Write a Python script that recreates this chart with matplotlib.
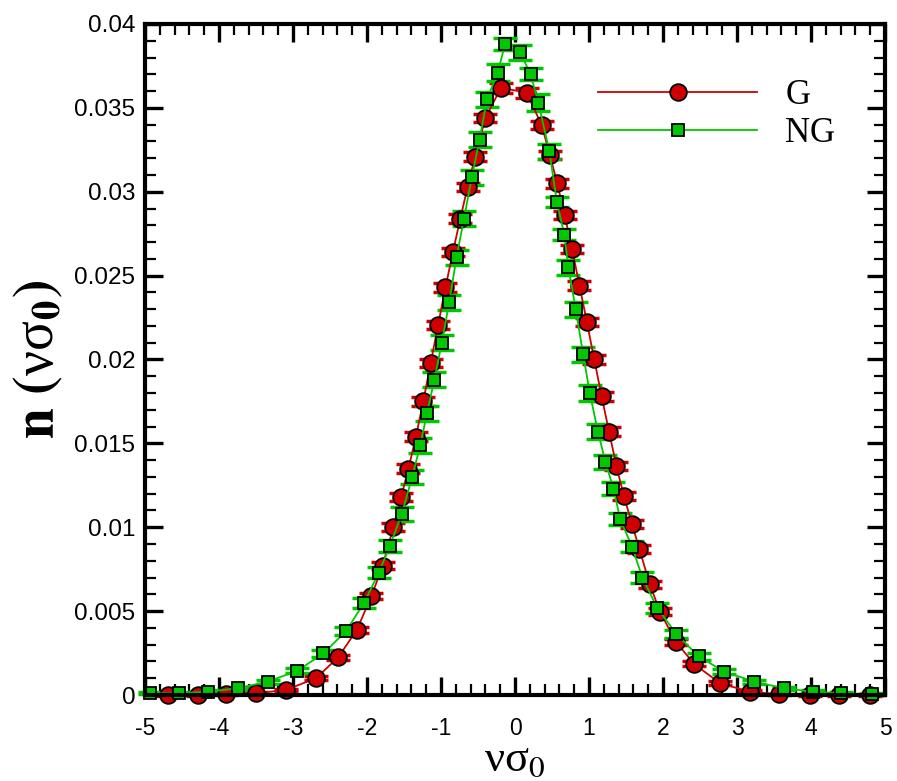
import matplotlib
matplotlib.use("Agg")
import matplotlib.pyplot as plt
from matplotlib.ticker import MultipleLocator, FuncFormatter
import numpy as np

# G sample: nu*sigma_0 and n (units of 1e-3)
g_x = [-4.69, -4.29, -3.90, -3.50, -3.10, -2.69, -2.39, -2.14, -1.94, -1.79,
       -1.645, -1.54, -1.44, -1.34, -1.24, -1.14, -1.04, -0.94, -0.84, -0.74,
       -0.64, -0.54, -0.40, -0.19, 0.157, 0.36, 0.47, 0.57, 0.67, 0.77,
       0.87, 0.97, 1.07, 1.17, 1.27, 1.37, 1.47, 1.58, 1.68, 1.82,
       1.96, 2.17, 2.42, 2.77, 3.17, 3.57, 3.98, 4.38, 4.79]
g_y = [0.0, 0.01, 0.04, 0.10, 0.30, 1.00, 2.25, 3.87, 5.9, 7.7,
       10.0, 11.8, 13.5, 15.4, 17.5, 19.8, 22.05, 24.3, 26.4, 28.4,
       30.3, 32.1, 34.4, 36.2, 35.9, 33.97, 32.2, 30.5, 28.6, 26.6,
       24.4, 22.25, 20.0, 17.8, 15.7, 13.65, 11.86, 10.2, 8.7, 6.6,
       4.96, 3.18, 1.85, 0.70, 0.20, 0.04, 0.0, 0.0, 0.0]
g_err = [0.05, 0.05, 0.05, 0.05, 0.08, 0.12, 0.15, 0.18, 0.2, 0.2,
         0.25, 0.25, 0.25, 0.25, 0.25, 0.25, 0.25, 0.25, 0.25, 0.25,
         0.25, 0.25, 0.25, 0.3, 0.3, 0.25, 0.25, 0.25, 0.25, 0.25,
         0.25, 0.25, 0.25, 0.25, 0.25, 0.25, 0.25, 0.25, 0.25, 0.2,
         0.2, 0.18, 0.15, 0.12, 0.08, 0.05, 0.05, 0.05, 0.05]

# NG sample
ng_x = [-4.93, -4.54, -4.15, -3.75, -3.34, -2.94, -2.59, -2.28, -2.04, -1.84,
        -1.69, -1.53, -1.39, -1.28, -1.19, -1.09, -0.99, -0.89, -0.79, -0.69,
        -0.585, -0.48, -0.38, -0.234, -0.135, 0.068, 0.21, 0.315, 0.464, 0.565,
        0.665, 0.72, 0.82, 0.92, 1.01, 1.12, 1.22, 1.33, 1.42, 1.58,
        1.72, 1.92, 2.18, 2.48, 2.83, 3.23, 3.63, 4.02, 4.41, 4.83]
ng_y = [0.10, 0.10, 0.20, 0.40, 0.80, 1.45, 2.48, 3.83, 5.5, 7.3,
        8.9, 10.8, 13.0, 14.9, 16.8, 18.8, 21.0, 23.4, 26.1, 28.4,
        30.85, 33.1, 35.5, 37.1, 38.8, 38.3, 37.0, 35.3, 32.4, 29.4,
        27.45, 25.5, 23.0, 20.3, 18.0, 15.7, 13.9, 12.3, 10.5, 8.85,
        7.0, 5.2, 3.63, 2.3, 1.39, 0.80, 0.40, 0.20, 0.10, 0.05]
ng_err = [0.05, 0.05, 0.08, 0.1, 0.12, 0.15, 0.2, 0.25, 0.3, 0.35,
          0.35, 0.4, 0.4, 0.45, 0.45, 0.45, 0.45, 0.45, 0.45, 0.45,
          0.45, 0.45, 0.45, 0.5, 0.35, 0.45, 0.35, 0.5, 0.45, 0.3,
          0.35, 0.45, 0.45, 0.45, 0.45, 0.45, 0.4, 0.4, 0.35, 0.35,
          0.35, 0.3, 0.25, 0.2, 0.15, 0.12, 0.1, 0.08, 0.05, 0.05]

RED = "#d00000"
GREEN = "#00c800"

plt.rcParams["mathtext.fontset"] = "stix"

fig = plt.figure(figsize=(8.97, 7.81), dpi=100)
ax = fig.add_axes([0.1617, 0.1101, 0.8250, 0.8592])

scale = 1e-3
for xs, ys, es, col, mk, ms, lab in [
        (g_x, g_y, g_err, RED, "o", 12, "G"),
        (ng_x, ng_y, ng_err, GREEN, "s", 8, "NG")]:
    y = np.array(ys) * scale
    e = np.array(es) * scale
    ax.errorbar(xs, y, yerr=e, fmt="none", ecolor=col, elinewidth=1.2,
                capsize=8.5, capthick=2.5, clip_on=False, zorder=2)
    ax.plot(xs, y, color=col, lw=1.3, marker=mk, ms=ms, mfc=col,
            mec="black", mew=1.3, clip_on=False, zorder=2.2, label=lab)

ax.set_xlim(-5, 5)
ax.set_ylim(0, 0.04)

ax.xaxis.set_major_locator(MultipleLocator(1))
ax.xaxis.set_minor_locator(MultipleLocator(0.2))
ax.yaxis.set_major_locator(MultipleLocator(0.005))
ax.yaxis.set_minor_locator(MultipleLocator(0.001))
ax.yaxis.set_major_formatter(FuncFormatter(lambda v, p: "%g" % round(v, 4)))
ax.xaxis.set_major_formatter(FuncFormatter(lambda v, p: "%g" % v))

ax.tick_params(which="both", direction="in", top=True, right=True)
ax.tick_params(which="major", length=13, width=2.4)
ax.tick_params(which="minor", length=8, width=1.6)
ax.tick_params(axis="x", labelsize=16.5, pad=16)
ax.tick_params(axis="y", labelsize=17.5, pad=7)
for lbl in ax.get_xticklabels() + ax.get_yticklabels():
    lbl.set_family("Liberation Sans")
for sp in ax.spines.values():
    sp.set_linewidth(3)
    sp.set_zorder(3)

ax.set_xlabel("νσ$_0$", fontsize=32, family="Liberation Serif", labelpad=0)
ax.set_ylabel(r"$\mathbf{n}$ $\mathbf{(}$νσ$_\mathbf{0}\mathbf{)}$",
              fontsize=40, family="Liberation Serif", labelpad=6)

ax.legend(loc="upper right", bbox_to_anchor=(0.975, 0.965), frameon=False,
          handlelength=4.6, handletextpad=0.8, labelspacing=0.15,
          prop={"family": "Liberation Serif", "size": 25}, numpoints=1)

fig.savefig("out.png", dpi=100)
